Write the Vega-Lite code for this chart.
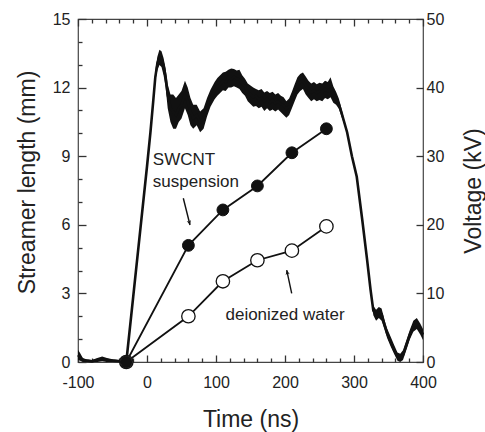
{
  "$schema": "https://vega.github.io/schema/vega-lite/v6.json",
  "width": 345,
  "height": 343,
  "autosize": {"type": "none"},
  "padding": {"left": 78, "top": 19, "right": 62, "bottom": 70},
  "background": "white",
  "config": {
    "font": "Liberation Sans",
    "view": {"stroke": "#444", "strokeWidth": 1.2},
    "axis": {
      "grid": false,
      "domain": false,
      "labelOverlap": false,
      "labelFont": "Liberation Sans",
      "labelFontSize": 16,
      "labelColor": "#222",
      "titleFont": "Liberation Sans",
      "titleFontSize": 23,
      "titleFontWeight": "normal",
      "titleColor": "#222",
      "tickColor": "#333",
      "tickWidth": 1.3
    }
  },
  "datasets": {
    "wave": [
      {"t": -100, "v": 1.0, "lo": 0.3, "hi": 1.8},
      {"t": -97, "v": 0.7, "lo": 0.2, "hi": 1.3},
      {"t": -93, "v": 0.3, "lo": 0, "hi": 0.6},
      {"t": -88, "v": 0.2, "lo": 0, "hi": 0.4},
      {"t": -80, "v": 0.1, "lo": 0, "hi": 0.3},
      {"t": -72, "v": 0.3, "lo": 0, "hi": 0.6},
      {"t": -65, "v": 0.4, "lo": 0.1, "hi": 0.8},
      {"t": -58, "v": 0.3, "lo": 0, "hi": 0.6},
      {"t": -50, "v": 0.2, "lo": 0, "hi": 0.4},
      {"t": -40, "v": 0.1, "lo": 0, "hi": 0.3},
      {"t": -30, "v": 0, "lo": 0, "hi": 0.2},
      {"t": -20, "v": 9.5, "lo": 9.5, "hi": 9.5},
      {"t": -10, "v": 19, "lo": 19, "hi": 19},
      {"t": 0, "v": 28.5, "lo": 28.5, "hi": 28.5},
      {"t": 5, "v": 33.5, "lo": 33.5, "hi": 33.5},
      {"t": 9, "v": 38, "lo": 38, "hi": 38},
      {"t": 12, "v": 41.5, "lo": 41, "hi": 42.5},
      {"t": 15, "v": 43.5, "lo": 42.5, "hi": 44.5},
      {"t": 18, "v": 44.5, "lo": 43.3, "hi": 45.5},
      {"t": 21, "v": 44.3, "lo": 43, "hi": 45.3},
      {"t": 24, "v": 43.2, "lo": 41.8, "hi": 44.3},
      {"t": 27, "v": 41.5, "lo": 40, "hi": 42.8},
      {"t": 30, "v": 39, "lo": 37, "hi": 40.5},
      {"t": 34, "v": 37, "lo": 35, "hi": 39},
      {"t": 38, "v": 36.5, "lo": 34, "hi": 39},
      {"t": 42, "v": 36, "lo": 34, "hi": 38.5},
      {"t": 46, "v": 37, "lo": 35, "hi": 39},
      {"t": 50, "v": 37.5, "lo": 35.5, "hi": 39.5},
      {"t": 55, "v": 39, "lo": 37, "hi": 41},
      {"t": 59, "v": 38, "lo": 36, "hi": 40},
      {"t": 63, "v": 36.5, "lo": 34.5, "hi": 38.5},
      {"t": 67, "v": 35.5, "lo": 34, "hi": 37.5},
      {"t": 72, "v": 36, "lo": 34.5, "hi": 37.5},
      {"t": 77, "v": 35, "lo": 33.5, "hi": 36.5},
      {"t": 82, "v": 35.5, "lo": 34, "hi": 37},
      {"t": 87, "v": 37, "lo": 35.8, "hi": 38.5},
      {"t": 92, "v": 38.5, "lo": 37.2, "hi": 39.7},
      {"t": 98, "v": 39.5, "lo": 38.3, "hi": 40.8},
      {"t": 102, "v": 40.2, "lo": 38.8, "hi": 41.4},
      {"t": 106, "v": 40.4, "lo": 39.2, "hi": 41.8},
      {"t": 110, "v": 41.0, "lo": 39.6, "hi": 42.2},
      {"t": 114, "v": 40.8, "lo": 39.5, "hi": 42.3},
      {"t": 118, "v": 41.5, "lo": 40.0, "hi": 42.6},
      {"t": 122, "v": 41.2, "lo": 40.0, "hi": 42.8},
      {"t": 126, "v": 41.6, "lo": 40.2, "hi": 42.7},
      {"t": 130, "v": 41.3, "lo": 40.0, "hi": 42.5},
      {"t": 134, "v": 41.2, "lo": 39.8, "hi": 42.6},
      {"t": 138, "v": 40.5, "lo": 39.2, "hi": 41.8},
      {"t": 142, "v": 40.2, "lo": 38.8, "hi": 41.3},
      {"t": 146, "v": 39.3, "lo": 38.0, "hi": 40.6},
      {"t": 150, "v": 39.0, "lo": 37.6, "hi": 40.3},
      {"t": 154, "v": 38.6, "lo": 37.2, "hi": 40.0},
      {"t": 158, "v": 38.8, "lo": 37.3, "hi": 39.8},
      {"t": 162, "v": 38.2, "lo": 37.0, "hi": 39.6},
      {"t": 166, "v": 38.5, "lo": 37.2, "hi": 39.8},
      {"t": 170, "v": 38.0, "lo": 36.6, "hi": 39.3},
      {"t": 174, "v": 38.4, "lo": 37.0, "hi": 39.5},
      {"t": 178, "v": 37.8, "lo": 36.6, "hi": 39.2},
      {"t": 182, "v": 38.2, "lo": 36.8, "hi": 39.4},
      {"t": 186, "v": 37.7, "lo": 36.5, "hi": 39.0},
      {"t": 190, "v": 38.0, "lo": 36.8, "hi": 39.2},
      {"t": 194, "v": 37.6, "lo": 36.4, "hi": 38.8},
      {"t": 198, "v": 37.4, "lo": 36.0, "hi": 38.6},
      {"t": 202, "v": 36.9, "lo": 35.6, "hi": 38.0},
      {"t": 206, "v": 37.3, "lo": 36.0, "hi": 38.4},
      {"t": 210, "v": 38.2, "lo": 37.0, "hi": 39.4},
      {"t": 214, "v": 39.3, "lo": 38.0, "hi": 40.5},
      {"t": 218, "v": 40.3, "lo": 39.0, "hi": 41.5},
      {"t": 222, "v": 40.8, "lo": 39.5, "hi": 42.0},
      {"t": 226, "v": 41.0, "lo": 39.8, "hi": 42.2},
      {"t": 230, "v": 40.3, "lo": 39.0, "hi": 41.6},
      {"t": 234, "v": 39.8, "lo": 38.5, "hi": 41.0},
      {"t": 238, "v": 39.3, "lo": 38.0, "hi": 40.6},
      {"t": 242, "v": 39.6, "lo": 38.3, "hi": 40.8},
      {"t": 246, "v": 39.2, "lo": 38.0, "hi": 40.5},
      {"t": 250, "v": 39.5, "lo": 38.2, "hi": 40.7},
      {"t": 254, "v": 39.3, "lo": 38.0, "hi": 40.6},
      {"t": 258, "v": 39.8, "lo": 38.5, "hi": 41.0},
      {"t": 262, "v": 39.5, "lo": 38.3, "hi": 40.8},
      {"t": 266, "v": 39.8, "lo": 38.6, "hi": 41.5},
      {"t": 270, "v": 39.0, "lo": 37.8, "hi": 40.2},
      {"t": 274, "v": 38.5, "lo": 37.5, "hi": 39.4},
      {"t": 278, "v": 37.6, "lo": 36.9, "hi": 38.4},
      {"t": 282, "v": 36.3, "lo": 35.7, "hi": 36.9},
      {"t": 290, "v": 33.5, "lo": 33.5, "hi": 33.5},
      {"t": 297, "v": 30, "lo": 30, "hi": 30},
      {"t": 304, "v": 27, "lo": 27, "hi": 27},
      {"t": 312, "v": 20.7, "lo": 20.7, "hi": 20.7},
      {"t": 319, "v": 14.9, "lo": 14.9, "hi": 14.9},
      {"t": 324, "v": 10.5, "lo": 10.5, "hi": 10.5},
      {"t": 328, "v": 7.5, "lo": 6.8, "hi": 8.2},
      {"t": 332, "v": 6.8, "lo": 6, "hi": 7.6},
      {"t": 336, "v": 7.2, "lo": 6.4, "hi": 8},
      {"t": 340, "v": 7, "lo": 6, "hi": 7.8},
      {"t": 344, "v": 5.5, "lo": 4.8, "hi": 6.2},
      {"t": 348, "v": 4.2, "lo": 3.5, "hi": 4.9},
      {"t": 353, "v": 3, "lo": 2.3, "hi": 3.7},
      {"t": 358, "v": 1.8, "lo": 1.2, "hi": 2.5},
      {"t": 363, "v": 0.8, "lo": 0.2, "hi": 1.4},
      {"t": 367, "v": 0.5, "lo": 0, "hi": 1.2},
      {"t": 371, "v": 1, "lo": 0.3, "hi": 1.7},
      {"t": 376, "v": 2.5, "lo": 1.8, "hi": 3.2},
      {"t": 381, "v": 4, "lo": 3.3, "hi": 4.7},
      {"t": 386, "v": 5.2, "lo": 4.4, "hi": 6},
      {"t": 391, "v": 5.6, "lo": 4.8, "hi": 6.4},
      {"t": 396, "v": 4.8, "lo": 4, "hi": 5.6},
      {"t": 400, "v": 4, "lo": 3.2, "hi": 4.8}
    ],
    "streamer": [
      {"series": "SWCNT suspension", "t": -30, "mm": 0},
      {"series": "SWCNT suspension", "t": 60, "mm": 5.1},
      {"series": "SWCNT suspension", "t": 110, "mm": 6.65},
      {"series": "SWCNT suspension", "t": 160, "mm": 7.7},
      {"series": "SWCNT suspension", "t": 210, "mm": 9.15},
      {"series": "SWCNT suspension", "t": 260, "mm": 10.2},
      {"series": "deionized water", "t": -30, "mm": 0},
      {"series": "deionized water", "t": 60, "mm": 2.0},
      {"series": "deionized water", "t": 110, "mm": 3.53},
      {"series": "deionized water", "t": 160, "mm": 4.45},
      {"series": "deionized water", "t": 210, "mm": 4.87},
      {"series": "deionized water", "t": 260, "mm": 5.93}
    ],
    "labels": [
      {"text": "SWCNT", "t": 53.6, "mm": 8.83},
      {"text": "suspension", "t": 70.8, "mm": 7.87},
      {"text": "deionized water", "t": 200, "mm": 2.06}
    ],
    "arrows": [
      {"id": 1, "t": 52.6, "mm": 7.16},
      {"id": 1, "t": 62.3, "mm": 5.99},
      {"id": 2, "t": 209.7, "mm": 3.0},
      {"id": 2, "t": 202.5, "mm": 4.02}
    ],
    "tips": [
      {"id": 1, "t": 62.3, "mm": 5.99},
      {"id": 2, "t": 202.5, "mm": 4.02}
    ]
  },
  "layer": [
    {
      "data": {"name": "wave"},
      "layer": [
        {
          "mark": {"type": "area", "color": "#111", "interpolate": "linear"},
          "encoding": {
            "x": {
              "field": "t", "type": "quantitative",
              "scale": {"domain": [-100, 400], "nice": false, "zero": false},
              "title": "Time (ns)",
              "axis": {
                "orient": "bottom",
                "values": [-100, 0, 100, 200, 300, 400],
                "labelExpr": "replace(datum.label, '\u2212', '-')",
                "tickSize": -7,
                "labelPadding": 19,
                "labelFlush": false,
                "titlePadding": 18
              }
            },
            "y": {
              "field": "lo", "type": "quantitative",
              "scale": {"domain": [0, 50], "nice": false},
              "title": "Voltage (kV)",
              "axis": {
                "orient": "right",
                "values": [0, 10, 20, 30, 40, 50],
                "tickSize": -7,
                "labelPadding": 10,
                "titleAngle": -90,
                "titlePadding": 42
              }
            },
            "y2": {"field": "hi"}
          }
        },
        {
          "mark": {"type": "line", "color": "#111", "strokeWidth": 2.6},
          "encoding": {
            "x": {
              "field": "t", "type": "quantitative",
              "axis": {
                "orient": "bottom",
                "values": [-80, -60, -40, -20, 20, 40, 60, 80, 120, 140, 160, 180, 220, 240, 260, 280, 320, 340, 360, 380],
                "tickSize": -4,
                "labels": false,
                "title": null
              }
            },
            "y": {"field": "v", "type": "quantitative", "axis": null}
          }
        }
      ],
      "resolve": {"axis": {"x": "independent", "y": "independent"}}
    },
    {
      "layer": [
        {
          "data": {"name": "streamer"},
          "mark": {"type": "line", "color": "#111", "strokeWidth": 1.8},
          "encoding": {
            "x": {
              "field": "t", "type": "quantitative",
              "scale": {"domain": [-100, 400], "nice": false, "zero": false},
              "axis": {
                "orient": "top",
                "values": [-100, 0, 100, 200, 300, 400],
                "labels": false,
                "title": null,
                "tickSize": -7
              }
            },
            "y": {
              "field": "mm", "type": "quantitative",
              "scale": {"domain": [0, 15], "nice": false},
              "title": "Streamer length (mm)",
              "axis": {
                "orient": "left",
                "values": [0, 3, 6, 9, 12, 15],
                "tickSize": -8,
                "labelPadding": 16,
                "titlePadding": 13,
                "titleY": 163
              }
            },
            "detail": {"field": "series"}
          }
        },
        {
          "data": {"name": "streamer"},
          "transform": [{"filter": "datum.series === 'deionized water'"}],
          "mark": {"type": "point", "shape": "circle", "filled": true, "fill": "white", "stroke": "#111", "strokeWidth": 1.3, "size": 180, "opacity": 1},
          "encoding": {
            "x": {
              "field": "t", "type": "quantitative",
              "axis": {
                "orient": "top",
                "values": [-80, -60, -40, -20, 20, 40, 60, 80, 120, 140, 160, 180, 220, 240, 260, 280, 320, 340, 360, 380],
                "labels": false,
                "title": null,
                "tickSize": -4
              }
            },
            "y": {
              "field": "mm", "type": "quantitative",
              "axis": {
                "orient": "left",
                "values": [1, 2, 4, 5, 7, 8, 10, 11, 13, 14],
                "labels": false,
                "title": null,
                "tickSize": -4
              }
            }
          }
        },
        {
          "data": {"name": "streamer"},
          "transform": [{"filter": "datum.series === 'SWCNT suspension'"}],
          "mark": {"type": "point", "shape": "circle", "filled": true, "fill": "#111", "stroke": "#111", "strokeWidth": 1, "size": 140, "opacity": 1},
          "encoding": {
            "x": {"field": "t", "type": "quantitative", "axis": null},
            "y": {"field": "mm", "type": "quantitative", "axis": null}
          }
        },
        {
          "data": {"name": "labels"},
          "mark": {"type": "text", "fontSize": 17, "font": "Liberation Sans", "color": "#222", "align": "center", "baseline": "middle"},
          "encoding": {
            "x": {"field": "t", "type": "quantitative", "axis": null},
            "y": {"field": "mm", "type": "quantitative", "axis": null},
            "text": {"field": "text"}
          }
        },
        {
          "data": {"name": "arrows"},
          "mark": {"type": "line", "color": "#111", "strokeWidth": 1.4},
          "encoding": {
            "x": {"field": "t", "type": "quantitative", "axis": null},
            "y": {"field": "mm", "type": "quantitative", "axis": null},
            "detail": {"field": "id"}
          }
        },
        {
          "data": {"name": "tips"},
          "transform": [{"filter": "datum.id === 1"}],
          "mark": {"type": "point", "shape": "M0,0 L-0.45,-1 L0,-0.7 L0.45,-1 Z", "filled": true, "fill": "#111", "stroke": null, "size": 90, "angle": -14, "opacity": 1},
          "encoding": {
            "x": {"field": "t", "type": "quantitative", "axis": null},
            "y": {"field": "mm", "type": "quantitative", "axis": null}
          }
        },
        {
          "data": {"name": "tips"},
          "transform": [{"filter": "datum.id === 2"}],
          "mark": {"type": "point", "shape": "M0,0 L-0.45,-1 L0,-0.7 L0.45,-1 Z", "filled": true, "fill": "#111", "stroke": null, "size": 90, "angle": 168, "opacity": 1},
          "encoding": {
            "x": {"field": "t", "type": "quantitative", "axis": null},
            "y": {"field": "mm", "type": "quantitative", "axis": null}
          }
        }
      ],
      "resolve": {"axis": {"x": "independent", "y": "independent"}}
    }
  ],
  "resolve": {"scale": {"y": "independent"}, "axis": {"x": "independent"}}
}
